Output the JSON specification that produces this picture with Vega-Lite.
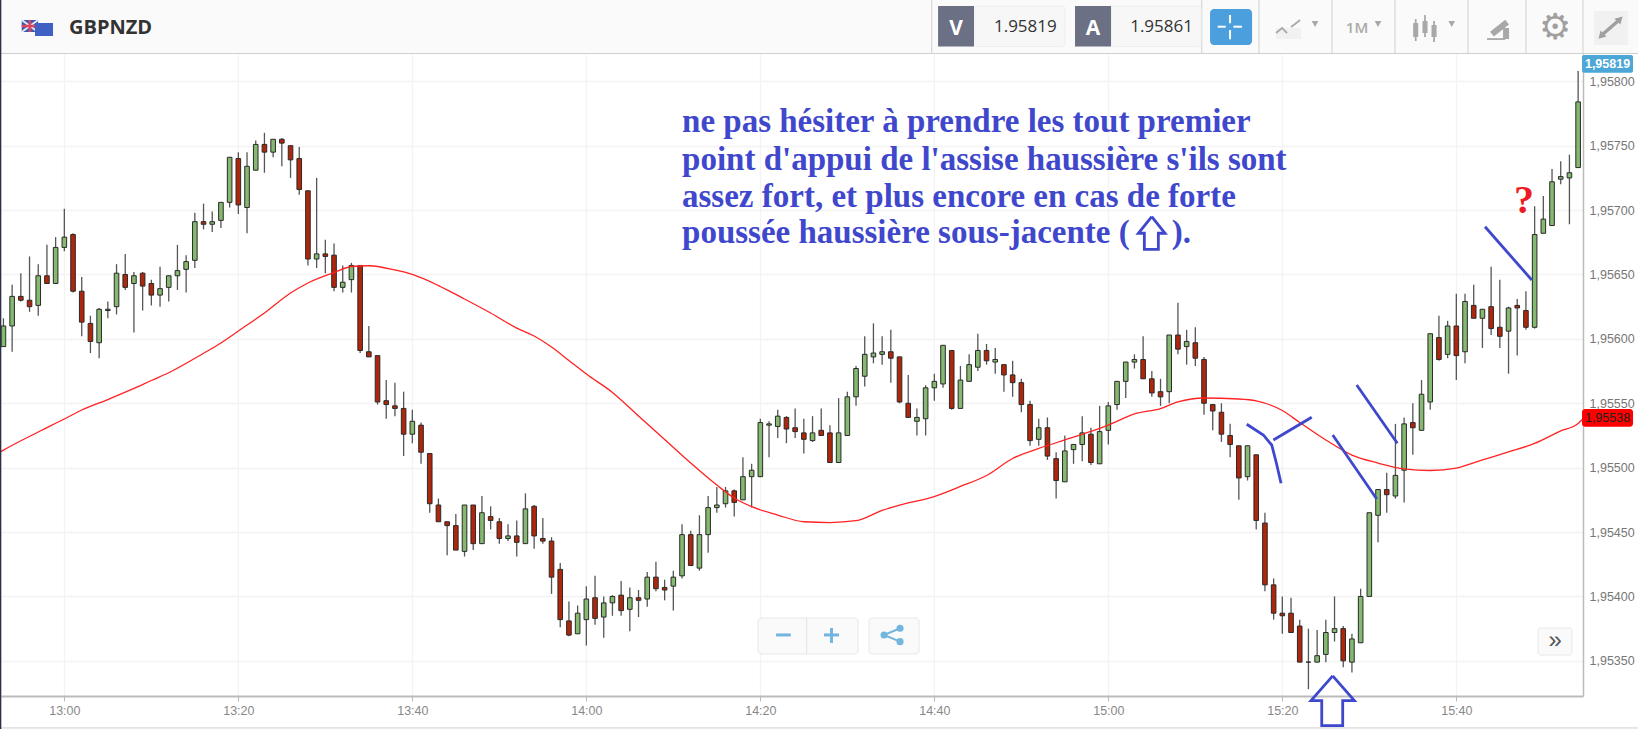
{"$schema":"https://vega.github.io/schema/vega-lite/v6.json","width":1582,"height":642,"autosize":{"type":"none"},"padding":{"left":1,"top":54,"right":55,"bottom":33},"background":"#ffffff","config":{"view":{"stroke":null}},
"datasets":{
"candles":[
{"minute":773,"open":1.95594,"high":1.95616,"low":1.95594,"close":1.95610},{"minute":774,"open":1.95610,"high":1.95642,"low":1.95590,"close":1.95633},{"minute":775,"open":1.95633,"high":1.95651,"low":1.95629,"close":1.95630},{"minute":776,"open":1.95630,"high":1.95664,"low":1.95621,"close":1.95625},{"minute":777,"open":1.95626,"high":1.95658,"low":1.95618,"close":1.95649},{"minute":778,"open":1.95649,"high":1.95673,"low":1.95643,"close":1.95643},{"minute":779,"open":1.95643,"high":1.95679,"low":1.95643,"close":1.95671},
{"minute":780,"open":1.95671,"high":1.95701,"low":1.95668,"close":1.95679},{"minute":781,"open":1.95681,"high":1.95682,"low":1.95636,"close":1.95637},{"minute":782,"open":1.95637,"high":1.95648,"low":1.95602,"close":1.95613},{"minute":783,"open":1.95612,"high":1.95618,"low":1.95589,"close":1.95598},{"minute":784,"open":1.95597,"high":1.95624,"low":1.95585,"close":1.95623},{"minute":785,"open":1.95622,"high":1.95629,"low":1.95616,"close":1.95623},{"minute":786,"open":1.95625,"high":1.95658,"low":1.95619,"close":1.95651},{"minute":787,"open":1.95650,"high":1.95666,"low":1.95638,"close":1.95640},{"minute":788,"open":1.95643,"high":1.95652,"low":1.95605,"close":1.95649},{"minute":789,"open":1.95651,"high":1.95652,"low":1.95622,"close":1.95641},
{"minute":790,"open":1.95643,"high":1.95646,"low":1.95626,"close":1.95634},{"minute":791,"open":1.95634,"high":1.95656,"low":1.95625,"close":1.95639},{"minute":792,"open":1.95640,"high":1.95649,"low":1.95629,"close":1.95649},{"minute":793,"open":1.95649,"high":1.95673,"low":1.95638,"close":1.95653},{"minute":794,"open":1.95654,"high":1.95665,"low":1.95636,"close":1.95660},{"minute":795,"open":1.95661,"high":1.95698,"low":1.95655,"close":1.95691},{"minute":796,"open":1.95691,"high":1.95705,"low":1.95685,"close":1.95689},{"minute":797,"open":1.95689,"high":1.95699,"low":1.95683,"close":1.95691},{"minute":798,"open":1.95692,"high":1.95706,"low":1.95686,"close":1.95706},{"minute":799,"open":1.95706,"high":1.95741,"low":1.95702,"close":1.95741},
{"minute":800,"open":1.95740,"high":1.95745,"low":1.95697,"close":1.95704},{"minute":801,"open":1.95702,"high":1.95745,"low":1.95682,"close":1.95734},{"minute":802,"open":1.95731,"high":1.95754,"low":1.95731,"close":1.95751},{"minute":803,"open":1.95751,"high":1.95760,"low":1.95729,"close":1.95745},{"minute":804,"open":1.95745,"high":1.95755,"low":1.95741,"close":1.95755},{"minute":805,"open":1.95755,"high":1.95756,"low":1.95734,"close":1.95752},{"minute":806,"open":1.95750,"high":1.95750,"low":1.95725,"close":1.95739},{"minute":807,"open":1.95740,"high":1.95749,"low":1.95712,"close":1.95716},{"minute":808,"open":1.95715,"high":1.95715,"low":1.95657,"close":1.95662},{"minute":809,"open":1.95662,"high":1.95725,"low":1.95655,"close":1.95666},
{"minute":810,"open":1.95666,"high":1.95677,"low":1.95651,"close":1.95664},{"minute":811,"open":1.95665,"high":1.95674,"low":1.95637,"close":1.95640},{"minute":812,"open":1.95640,"high":1.95657,"low":1.95636,"close":1.95644},{"minute":813,"open":1.95646,"high":1.95659,"low":1.95636,"close":1.95657},{"minute":814,"open":1.95657,"high":1.95657,"low":1.95589,"close":1.95591},{"minute":815,"open":1.95590,"high":1.95610,"low":1.95586,"close":1.95586},{"minute":816,"open":1.95587,"high":1.95587,"low":1.95549,"close":1.95551},{"minute":817,"open":1.95552,"high":1.95568,"low":1.95538,"close":1.95549},{"minute":818,"open":1.95548,"high":1.95566,"low":1.95540,"close":1.95546},{"minute":819,"open":1.95546,"high":1.95559,"low":1.95509,"close":1.95526},
{"minute":820,"open":1.95526,"high":1.95545,"low":1.95519,"close":1.95536},{"minute":821,"open":1.95533,"high":1.95535,"low":1.95503,"close":1.95512},{"minute":822,"open":1.95511,"high":1.95511,"low":1.95465,"close":1.95472},{"minute":823,"open":1.95471,"high":1.95476,"low":1.95458,"close":1.95458},{"minute":824,"open":1.95458,"high":1.95458,"low":1.95432,"close":1.95455},{"minute":825,"open":1.95455,"high":1.95464,"low":1.95436,"close":1.95436},{"minute":826,"open":1.95435,"high":1.95471,"low":1.95431,"close":1.95471},{"minute":827,"open":1.95471,"high":1.95471,"low":1.95436,"close":1.95441},{"minute":828,"open":1.95441,"high":1.95478,"low":1.95441,"close":1.95465},{"minute":829,"open":1.95462,"high":1.95470,"low":1.95452,"close":1.95459},
{"minute":830,"open":1.95458,"high":1.95461,"low":1.95441,"close":1.95445},{"minute":831,"open":1.95445,"high":1.95456,"low":1.95443,"close":1.95447},{"minute":832,"open":1.95447,"high":1.95459,"low":1.95431,"close":1.95442},{"minute":833,"open":1.95441,"high":1.95480,"low":1.95441,"close":1.95468},{"minute":834,"open":1.95470,"high":1.95471,"low":1.95437,"close":1.95447},{"minute":835,"open":1.95445,"high":1.95461,"low":1.95441,"close":1.95443},{"minute":836,"open":1.95443,"high":1.95446,"low":1.95402,"close":1.95415},{"minute":837,"open":1.95421,"high":1.95426,"low":1.95376,"close":1.95382},{"minute":838,"open":1.95381,"high":1.95396,"low":1.95369,"close":1.95370},{"minute":839,"open":1.95371,"high":1.95393,"low":1.95371,"close":1.95387},
{"minute":840,"open":1.95382,"high":1.95408,"low":1.95362,"close":1.95398},{"minute":841,"open":1.95399,"high":1.95416,"low":1.95378,"close":1.95383},{"minute":842,"open":1.95384,"high":1.95400,"low":1.95368,"close":1.95395},{"minute":843,"open":1.95395,"high":1.95401,"low":1.95385,"close":1.95400},{"minute":844,"open":1.95401,"high":1.95412,"low":1.95385,"close":1.95389},{"minute":845,"open":1.95390,"high":1.95407,"low":1.95373,"close":1.95399},{"minute":846,"open":1.95399,"high":1.95405,"low":1.95384,"close":1.95397},{"minute":847,"open":1.95398,"high":1.95419,"low":1.95392,"close":1.95415},{"minute":848,"open":1.95415,"high":1.95427,"low":1.95404,"close":1.95406},{"minute":849,"open":1.95407,"high":1.95413,"low":1.95397,"close":1.95405},
{"minute":850,"open":1.95408,"high":1.95420,"low":1.95389,"close":1.95415},{"minute":851,"open":1.95416,"high":1.95456,"low":1.95414,"close":1.95448},{"minute":852,"open":1.95448,"high":1.95451,"low":1.95424,"close":1.95424},{"minute":853,"open":1.95422,"high":1.95463,"low":1.95420,"close":1.95448},{"minute":854,"open":1.95448,"high":1.95478,"low":1.95434,"close":1.95469},{"minute":855,"open":1.95469,"high":1.95485,"low":1.95465,"close":1.95471},{"minute":856,"open":1.95472,"high":1.95485,"low":1.95469,"close":1.95482},{"minute":857,"open":1.95482,"high":1.95483,"low":1.95462,"close":1.95473},{"minute":858,"open":1.95475,"high":1.95508,"low":1.95475,"close":1.95493},{"minute":859,"open":1.95493,"high":1.95503,"low":1.95469,"close":1.95498},
{"minute":860,"open":1.95493,"high":1.95538,"low":1.95493,"close":1.95535},{"minute":861,"open":1.95533,"high":1.95536,"low":1.95508,"close":1.95534},{"minute":862,"open":1.95532,"high":1.95545,"low":1.95523,"close":1.95540},{"minute":863,"open":1.95539,"high":1.95540,"low":1.95519,"close":1.95530},{"minute":864,"open":1.95531,"high":1.95546,"low":1.95523,"close":1.95528},{"minute":865,"open":1.95527,"high":1.95538,"low":1.95511,"close":1.95522},{"minute":866,"open":1.95521,"high":1.95540,"low":1.95520,"close":1.95527},{"minute":867,"open":1.95529,"high":1.95546,"low":1.95525,"close":1.95525},{"minute":868,"open":1.95527,"high":1.95533,"low":1.95504,"close":1.95504},{"minute":869,"open":1.95504,"high":1.95554,"low":1.95504,"close":1.95527},
{"minute":870,"open":1.95525,"high":1.95559,"low":1.95525,"close":1.95555},{"minute":871,"open":1.95555,"high":1.95579,"low":1.95548,"close":1.95577},{"minute":872,"open":1.95571,"high":1.95602,"low":1.95563,"close":1.95588},{"minute":873,"open":1.95586,"high":1.95612,"low":1.95581,"close":1.95589},{"minute":874,"open":1.95588,"high":1.95602,"low":1.95580,"close":1.95590},{"minute":875,"open":1.95590,"high":1.95607,"low":1.95566,"close":1.95585},{"minute":876,"open":1.95586,"high":1.95586,"low":1.95550,"close":1.95551},{"minute":877,"open":1.95550,"high":1.95572,"low":1.95539,"close":1.95539},{"minute":878,"open":1.95536,"high":1.95546,"low":1.95525,"close":1.95539},{"minute":879,"open":1.95538,"high":1.95564,"low":1.95525,"close":1.95562},
{"minute":880,"open":1.95562,"high":1.95573,"low":1.95552,"close":1.95567},{"minute":881,"open":1.95565,"high":1.95595,"low":1.95562,"close":1.95595},{"minute":882,"open":1.95591,"high":1.95591,"low":1.95545,"close":1.95546},{"minute":883,"open":1.95546,"high":1.95579,"low":1.95546,"close":1.95568},{"minute":884,"open":1.95567,"high":1.95588,"low":1.95567,"close":1.95580},{"minute":885,"open":1.95578,"high":1.95604,"low":1.95575,"close":1.95591},{"minute":886,"open":1.95591,"high":1.95596,"low":1.95580,"close":1.95583},{"minute":887,"open":1.95582,"high":1.95593,"low":1.95573,"close":1.95584},{"minute":888,"open":1.95580,"high":1.95580,"low":1.95559,"close":1.95572},{"minute":889,"open":1.95572,"high":1.95583,"low":1.95555,"close":1.95566},
{"minute":890,"open":1.95566,"high":1.95569,"low":1.95543,"close":1.95549},{"minute":891,"open":1.95549,"high":1.95552,"low":1.95517,"close":1.95521},{"minute":892,"open":1.95522,"high":1.95538,"low":1.95517,"close":1.95531},{"minute":893,"open":1.95531,"high":1.95539,"low":1.95506,"close":1.95509},{"minute":894,"open":1.95507,"high":1.95512,"low":1.95476,"close":1.95490},{"minute":895,"open":1.95489,"high":1.95525,"low":1.95489,"close":1.95513},{"minute":896,"open":1.95514,"high":1.95518,"low":1.95503,"close":1.95518},{"minute":897,"open":1.95518,"high":1.95540,"low":1.95505,"close":1.95527},{"minute":898,"open":1.95526,"high":1.95531,"low":1.95502,"close":1.95504},{"minute":899,"open":1.95503,"high":1.95548,"low":1.95503,"close":1.95528},
{"minute":900,"open":1.95529,"high":1.95551,"low":1.95518,"close":1.95548},{"minute":901,"open":1.95549,"high":1.95567,"low":1.95545,"close":1.95567},{"minute":902,"open":1.95567,"high":1.95582,"low":1.95554,"close":1.95582},{"minute":903,"open":1.95582,"high":1.95588,"low":1.95577,"close":1.95584},{"minute":904,"open":1.95584,"high":1.95602,"low":1.95569,"close":1.95569},{"minute":905,"open":1.95569,"high":1.95575,"low":1.95555,"close":1.95558},{"minute":906,"open":1.95559,"high":1.95569,"low":1.95548,"close":1.95555},{"minute":907,"open":1.95559,"high":1.95603,"low":1.95550,"close":1.95603},{"minute":908,"open":1.95603,"high":1.95628,"low":1.95588,"close":1.95592},{"minute":909,"open":1.95594,"high":1.95607,"low":1.95580,"close":1.95598},
{"minute":910,"open":1.95597,"high":1.95609,"low":1.95579,"close":1.95585},{"minute":911,"open":1.95584,"high":1.95586,"low":1.95541,"close":1.95550},{"minute":912,"open":1.95549,"high":1.95549,"low":1.95529,"close":1.95544},{"minute":913,"open":1.95543,"high":1.95550,"low":1.95520,"close":1.95526},{"minute":914,"open":1.95525,"high":1.95534,"low":1.95508,"close":1.95518},{"minute":915,"open":1.95517,"high":1.95517,"low":1.95475,"close":1.95492},{"minute":916,"open":1.95493,"high":1.95517,"low":1.95490,"close":1.95517},{"minute":917,"open":1.95510,"high":1.95510,"low":1.95452,"close":1.95459},{"minute":918,"open":1.95457,"high":1.95465,"low":1.95404,"close":1.95409},{"minute":919,"open":1.95409,"high":1.95414,"low":1.95382,"close":1.95387},
{"minute":920,"open":1.95387,"high":1.95400,"low":1.95371,"close":1.95385},{"minute":921,"open":1.95387,"high":1.95399,"low":1.95372,"close":1.95372},{"minute":922,"open":1.95377,"high":1.95382,"low":1.95349,"close":1.95349},{"minute":923,"open":1.95349,"high":1.95375,"low":1.95328,"close":1.95349},{"minute":924,"open":1.95349,"high":1.95374,"low":1.95349,"close":1.95354},{"minute":925,"open":1.95355,"high":1.95382,"low":1.95349,"close":1.95372},{"minute":926,"open":1.95372,"high":1.95400,"low":1.95365,"close":1.95375},{"minute":927,"open":1.95375,"high":1.95377,"low":1.95345,"close":1.95350},{"minute":928,"open":1.95349,"high":1.95371,"low":1.95341,"close":1.95367},{"minute":929,"open":1.95364,"high":1.95406,"low":1.95364,"close":1.95400},
{"minute":930,"open":1.95400,"high":1.95465,"low":1.95400,"close":1.95465},{"minute":931,"open":1.95463,"high":1.95483,"low":1.95442,"close":1.95483},{"minute":932,"open":1.95483,"high":1.95496,"low":1.95465,"close":1.95479},{"minute":933,"open":1.95478,"high":1.95534,"low":1.95476,"close":1.95494},{"minute":934,"open":1.95498,"high":1.95539,"low":1.95473,"close":1.95534},{"minute":935,"open":1.95535,"high":1.95550,"low":1.95510,"close":1.95531},{"minute":936,"open":1.95529,"high":1.95568,"low":1.95529,"close":1.95557},{"minute":937,"open":1.95551,"high":1.95604,"low":1.95545,"close":1.95604},{"minute":938,"open":1.95601,"high":1.95618,"low":1.95583,"close":1.95584},{"minute":939,"open":1.95588,"high":1.95614,"low":1.95585,"close":1.95610},
{"minute":940,"open":1.95610,"high":1.95635,"low":1.95568,"close":1.95587},{"minute":941,"open":1.95590,"high":1.95635,"low":1.95581,"close":1.95629},{"minute":942,"open":1.95626,"high":1.95642,"low":1.95616,"close":1.95616},{"minute":943,"open":1.95616,"high":1.95623,"low":1.95593,"close":1.95623},{"minute":944,"open":1.95625,"high":1.95656,"low":1.95603,"close":1.95608},{"minute":945,"open":1.95609,"high":1.95646,"low":1.95593,"close":1.95602},{"minute":946,"open":1.95606,"high":1.95625,"low":1.95573,"close":1.95624},{"minute":947,"open":1.95626,"high":1.95631,"low":1.95587,"close":1.95624},{"minute":948,"open":1.95622,"high":1.95637,"low":1.95607,"close":1.95609},{"minute":949,"open":1.95609,"high":1.95703,"low":1.95608,"close":1.95681},
{"minute":950,"open":1.95682,"high":1.95711,"low":1.95682,"close":1.95693},{"minute":951,"open":1.95688,"high":1.95732,"low":1.95688,"close":1.95722},{"minute":952,"open":1.95724,"high":1.95738,"low":1.95720,"close":1.95726},{"minute":953,"open":1.95725,"high":1.95743,"low":1.95689,"close":1.95729},{"minute":954,"open":1.95733,"high":1.95808,"low":1.95733,"close":1.95784}
],
"ma":[{"minute":772.72,"price":1.955125},{"minute":773,"price":1.955136},{"minute":777,"price":1.955277},{"minute":780,"price":1.955378},{"minute":782,"price":1.955448},{"minute":785,"price":1.955529},{"minute":788,"price":1.955615},{"minute":790,"price":1.955677},{"minute":792,"price":1.955737},{"minute":796,"price":1.955888},{"minute":798,"price":1.955968},{"minute":800,"price":1.956061},{"minute":803,"price":1.956201},{"minute":806,"price":1.956356},{"minute":808,"price":1.956434},{"minute":811,"price":1.956515},{"minute":813,"price":1.956562},{"minute":815,"price":1.956568},{"minute":818,"price":1.956535},{"minute":820,"price":1.9565},{"minute":823,"price":1.956414},{"minute":826,"price":1.95631},{"minute":829,"price":1.956201},{"minute":832,"price":1.956084},{"minute":834,"price":1.956022},{"minute":836,"price":1.955937},{"minute":838,"price":1.955832},{"minute":840,"price":1.955727},{"minute":843,"price":1.955584},{"minute":846,"price":1.955401},{"minute":849,"price":1.955219},{"minute":852,"price":1.955036},{"minute":855,"price":1.954865},{"minute":857,"price":1.954764},{"minute":859,"price":1.954697},{"minute":862,"price":1.954632},{"minute":865,"price":1.95458},{"minute":868,"price":1.954574},{"minute":871,"price":1.954588},{"minute":874,"price":1.954668},{"minute":876,"price":1.95471},{"minute":880,"price":1.954776},{"minute":883,"price":1.954854},{"minute":886,"price":1.954939},{"minute":889,"price":1.955071},{"minute":892,"price":1.955149},{"minute":895,"price":1.955215},{"minute":898,"price":1.955281},{"minute":900,"price":1.955331},{"minute":903,"price":1.955417},{"minute":906,"price":1.955459},{"minute":908,"price":1.95551},{"minute":911,"price":1.955541},{"minute":915,"price":1.955533},{"minute":917,"price":1.955518},{"minute":920,"price":1.955444},{"minute":922,"price":1.955351},{"minute":925,"price":1.955215},{"minute":928,"price":1.955098},{"minute":931,"price":1.955036},{"minute":934,"price":1.95499},{"minute":937,"price":1.954978},{"minute":940,"price":1.954997},{"minute":943,"price":1.95506},{"minute":946,"price":1.955122},{"minute":949,"price":1.955188},{"minute":952,"price":1.955285},{"minute":954,"price":1.955343},{"minute":954.56,"price":1.95538}],
"strokes":[
{"id":"a","i":1,"minute":915.91,"price":1.955337},{"id":"a","i":2,"minute":917.82,"price":1.955254},{"id":"a","i":3,"minute":918.78,"price":1.955176},{"id":"a","i":4,"minute":919.28,"price":1.955046},{"id":"a","i":5,"minute":919.85,"price":1.954879},
{"id":"b","i":1,"minute":918.97,"price":1.955215},{"id":"b","i":2,"minute":923.38,"price":1.955391},
{"id":"c","i":1,"minute":925.79,"price":1.955254},{"id":"c","i":2,"minute":930.85,"price":1.954757},
{"id":"d","i":1,"minute":928.55,"price":1.955642},{"id":"d","i":2,"minute":933.22,"price":1.955189},
{"id":"e","i":1,"minute":943.30,"price":1.956871},{"id":"e","i":2,"minute":948.67,"price":1.956457},
{"id":"big","i":1,"minute":925.79,"price":1.953383},{"id":"big","i":2,"minute":928.28,"price":1.953191},{"id":"big","i":3,"minute":926.94,"price":1.953191},{"id":"big","i":4,"minute":926.94,"price":1.952997},{"id":"big","i":5,"minute":924.53,"price":1.952997},{"id":"big","i":6,"minute":924.53,"price":1.953191},{"id":"big","i":7,"minute":923.30,"price":1.953191},{"id":"big","i":8,"minute":925.79,"price":1.953383},
{"id":"small","i":1,"minute":904.99,"price":1.956949},{"id":"small","i":2,"minute":906.52,"price":1.95682},{"id":"small","i":3,"minute":905.75,"price":1.95682},{"id":"small","i":4,"minute":905.75,"price":1.956695},{"id":"small","i":5,"minute":904.14,"price":1.956695},{"id":"small","i":6,"minute":904.14,"price":1.95682},{"id":"small","i":7,"minute":903.45,"price":1.95682},{"id":"small","i":8,"minute":904.99,"price":1.956949}
]},
"data":{"name":"candles"},
"layer":[
{"mark":{"type":"rule","color":"#555555","strokeWidth":1.3},"encoding":{
"x":{"field":"minute","type":"quantitative","title":null,"scale":{"domain":[772.72,954.56],"nice":false,"zero":false,"padding":0},"axis":{"orient":"bottom","title":null,"values":[780,800,820,840,860,880,900,920,940],"labelExpr":"format(floor(datum.value/60),'02d')+':'+format(datum.value%60,'02d')","labelFont":"Liberation Sans","labelFontSize":12.5,"labelColor":"#888888","labelPadding":3,"tickSize":5,"tickColor":"#bbbbbb","domainColor":"#bbbbbb","domainWidth":2,"gridColor":"#f3f3f3","gridWidth":1.3,"grid":true,"labelFlush":false,"labelOverlap":false}},
"y":{"field":"high","type":"quantitative","title":null,"scale":{"domain":[1.953227,1.958212],"nice":false,"zero":false},"axis":{"orient":"right","title":null,"values":[1.9535,1.954,1.9545,1.955,1.9555,1.956,1.9565,1.957,1.9575,1.958],"labelExpr":"replace(format(datum.value,'.5f'),'.',',')","labelFont":"Liberation Sans","labelFontSize":12.5,"labelColor":"#777777","labelPadding":6,"tickSize":0,"domainColor":"#bbbbbb","domainWidth":1.5,"gridColor":"#f3f3f3","gridWidth":1.3,"grid":true,"labelOverlap":false}},
"y2":{"field":"low"}}},
{"mark":{"type":"bar","orient":"vertical","size":4.6,"stroke":"#2a2a2a","strokeWidth":1},"encoding":{"x":{"field":"minute","type":"quantitative","scale":{"domain":[772.72,954.56],"padding":0}},"y":{"field":"open","type":"quantitative","scale":{"domain":[1.953227,1.958212]}},"y2":{"field":"close"},"fill":{"condition":{"test":"datum.close>=datum.open","value":"#84b96f"},"value":"#b0260a"}}},
{"data":{"name":"ma"},"mark":{"type":"line","color":"#ff2222","strokeWidth":1.3,"interpolate":"monotone"},"encoding":{"x":{"field":"minute","type":"quantitative","scale":{"domain":[772.72,954.56]}},"y":{"field":"price","type":"quantitative","scale":{"domain":[1.953227,1.958212]}}}},
{"data":{"name":"strokes"},"mark":{"type":"line","color":"#3f48cc","strokeWidth":2.8},"encoding":{"x":{"field":"minute","type":"quantitative","scale":{"domain":[772.72,954.56]}},"y":{"field":"price","type":"quantitative","scale":{"domain":[1.953227,1.958212]}},"detail":{"field":"id"},"order":{"field":"i"}}},
{"data":{"values":[{"line":"ne pas hésiter à prendre les tout premier","minute":851.0,"price":1.957606},{"line":"point d'appui de l'assise haussière s'ils sont","minute":851.0,"price":1.957311},{"line":"assez fort, et plus encore en cas de forte","minute":851.0,"price":1.957024},{"line":"poussée haussière sous-jacente (","minute":851.0,"price":1.956744},{"line":").","minute":907.29,"price":1.956744}]},"mark":{"type":"text","font":"Liberation Serif","fontWeight":"bold","fontSize":33,"color":"#3f48cc","align":"left","baseline":"alphabetic"},"encoding":{"x":{"field":"minute","type":"quantitative","scale":{"domain":[772.72,954.56]}},"y":{"field":"price","type":"quantitative","scale":{"domain":[1.953227,1.958212]}},"text":{"field":"line"}}},
{"data":{"values":[{"note":"?","minute":947.78,"price":1.956977}]},"mark":{"type":"text","font":"Liberation Serif","fontWeight":"bold","fontSize":40,"color":"#ed1c24","align":"center","baseline":"alphabetic"},"encoding":{"x":{"field":"minute","type":"quantitative","scale":{"domain":[772.72,954.56]}},"y":{"field":"price","type":"quantitative","scale":{"domain":[1.953227,1.958212]}},"text":{"field":"note"}}},
{"data":{"values":[{"x1":772.61,"x2":960.87,"y1":1.95822,"y2":1.958631}]},"mark":{"type":"rect","fill":"#fafafa"},"encoding":{"x":{"field":"x1","type":"quantitative","scale":{"domain":[772.72,954.56]}},"x2":{"field":"x2"},"y":{"field":"y1","type":"quantitative","scale":{"domain":[1.953227,1.958212]}},"y2":{"field":"y2"}}},
{"data":{"values":[{"id":"top","x":772.61,"y":1.958216},{"id":"top","x":960.87,"y":1.958216},{"id":"bottom","x":772.61,"y":1.952979},{"id":"bottom","x":960.87,"y":1.952979},{"id":"s1","x":879.7,"y":1.958631},{"id":"s1","x":879.7,"y":1.95822},{"id":"s2","x":910.74,"y":1.958631},{"id":"s2","x":910.74,"y":1.95822},{"id":"s3","x":917.32,"y":1.958631},{"id":"s3","x":917.32,"y":1.95822},{"id":"s4","x":925.71,"y":1.958631},{"id":"s4","x":925.71,"y":1.95822},{"id":"s5","x":932.95,"y":1.958631},{"id":"s5","x":932.95,"y":1.95822},{"id":"s6","x":941.34,"y":1.958631},{"id":"s6","x":941.34,"y":1.95822},{"id":"s7","x":948.01,"y":1.958631},{"id":"s7","x":948.01,"y":1.95822},{"id":"s8","x":954.56,"y":1.958631},{"id":"s8","x":954.56,"y":1.95822}]},"mark":{"type":"line","color":"#cfcfcf","strokeWidth":1},"encoding":{"x":{"field":"x","type":"quantitative","scale":{"domain":[772.72,954.56]}},"y":{"field":"y","type":"quantitative","scale":{"domain":[1.953227,1.958212]}},"detail":{"field":"id"}}},
{"data":{"values":[{"id":"left","x":772.67,"y":1.958631},{"id":"left","x":772.67,"y":1.95297}]},"mark":{"type":"line","color":"#2a3045","strokeWidth":1.5},"encoding":{"x":{"field":"x","type":"quantitative","scale":{"domain":[772.72,954.56]}},"y":{"field":"y","type":"quantitative","scale":{"domain":[1.953227,1.958212]}},"detail":{"field":"id"}}},
{"data":{"values":[{"x1":884.56,"x2":895.02,"y1":1.958584,"y2":1.95827},{"x1":900.31,"x2":910.66,"y1":1.958584,"y2":1.95827}]},"mark":{"type":"rect","fill":"#f7f7f7","stroke":"#eeeeee","cornerRadius":3},"encoding":{"x":{"field":"x1","type":"quantitative","scale":{"domain":[772.72,954.56]}},"x2":{"field":"x2"},"y":{"field":"y1","type":"quantitative","scale":{"domain":[1.953227,1.958212]}},"y2":{"field":"y2"}}},
{"data":{"values":[{"x1":880.43,"x2":884.56,"y1":1.958584,"y2":1.95827},{"x1":896.17,"x2":900.31,"y1":1.958584,"y2":1.95827}]},"mark":{"type":"rect","fill":"#6b7084"},"encoding":{"x":{"field":"x1","type":"quantitative","scale":{"domain":[772.72,954.56]}},"x2":{"field":"x2"},"y":{"field":"y1","type":"quantitative","scale":{"domain":[1.953227,1.958212]}},"y2":{"field":"y2"}}},
{"data":{"values":[{"x1":911.69,"x2":916.52,"y1":1.958561,"y2":1.958282}]},"mark":{"type":"rect","fill":"#4a9fdc","cornerRadius":4},"encoding":{"x":{"field":"x1","type":"quantitative","scale":{"domain":[772.72,954.56]}},"x2":{"field":"x2"},"y":{"field":"y1","type":"quantitative","scale":{"domain":[1.953227,1.958212]}},"y2":{"field":"y2"}}},
{"data":{"values":[{"id":"l","x":912.57,"y":1.958424},{"id":"l","x":913.49,"y":1.958424},{"id":"r","x":914.37,"y":1.958424},{"id":"r","x":915.37,"y":1.958424},{"id":"u","x":913.99,"y":1.958515},{"id":"u","x":913.99,"y":1.958451},{"id":"d","x":913.99,"y":1.958398},{"id":"d","x":913.99,"y":1.958326}]},"mark":{"type":"line","color":"#ffffff","strokeWidth":2},"encoding":{"x":{"field":"x","type":"quantitative","scale":{"domain":[772.72,954.56]}},"y":{"field":"y","type":"quantitative","scale":{"domain":[1.953227,1.958212]}},"detail":{"field":"id"}}},
{"data":{"values":[{"label":"V","x":882.49,"y":1.958362},{"label":"A","x":898.24,"y":1.958362}]},"mark":{"type":"text","font":"Open Sans","fontWeight":"bold","fontSize":21,"color":"#ffffff","align":"center","baseline":"alphabetic"},"encoding":{"x":{"field":"x","type":"quantitative","scale":{"domain":[772.72,954.56]}},"y":{"field":"y","type":"quantitative","scale":{"domain":[1.953227,1.958212]}},"text":{"field":"label"}}},
{"data":{"values":[{"label":"1.95819","x":894.07,"y":1.958379},{"label":"1.95861","x":909.73,"y":1.958379}]},"mark":{"type":"text","font":"Open Sans","fontSize":17,"color":"#333333","align":"right","baseline":"alphabetic"},"encoding":{"x":{"field":"x","type":"quantitative","scale":{"domain":[772.72,954.56]}},"y":{"field":"y","type":"quantitative","scale":{"domain":[1.953227,1.958212]}},"text":{"field":"label"}}},
{"data":{"values":[{"label":"GBPNZD","x":780.54,"y":1.958367}]},"mark":{"type":"text","font":"Open Sans","fontWeight":"bold","fontSize":20,"color":"#333333","align":"left","baseline":"alphabetic"},"encoding":{"x":{"field":"x","type":"quantitative","scale":{"domain":[772.72,954.56]}},"y":{"field":"y","type":"quantitative","scale":{"domain":[1.953227,1.958212]}},"text":{"field":"label"}}},
{"data":{"values":[{"x1":775.1,"x2":776.98,"y1":1.958476,"y2":1.958383}]},"mark":{"type":"rect","fill":"#3b5bb5"},"encoding":{"x":{"field":"x1","type":"quantitative","scale":{"domain":[772.72,954.56]}},"x2":{"field":"x2"},"y":{"field":"y1","type":"quantitative","scale":{"domain":[1.953227,1.958212]}},"y2":{"field":"y2"}}},
{"data":{"values":[{"id":"d1","x":775.1,"y":1.958476},{"id":"d1","x":776.98,"y":1.958383},{"id":"d2","x":775.1,"y":1.958383},{"id":"d2","x":776.98,"y":1.958476}]},"mark":{"type":"line","color":"#e8e8f4","strokeWidth":2},"encoding":{"x":{"field":"x","type":"quantitative","scale":{"domain":[772.72,954.56]}},"y":{"field":"y","type":"quantitative","scale":{"domain":[1.953227,1.958212]}},"detail":{"field":"id"}}},
{"data":{"values":[{"id":"h","x":775.1,"y":1.958429},{"id":"h","x":776.98,"y":1.958429},{"id":"v","x":776.04,"y":1.958476},{"id":"v","x":776.04,"y":1.958383}]},"mark":{"type":"line","color":"#e0455a","strokeWidth":2.5},"encoding":{"x":{"field":"x","type":"quantitative","scale":{"domain":[772.72,954.56]}},"y":{"field":"y","type":"quantitative","scale":{"domain":[1.953227,1.958212]}},"detail":{"field":"id"}}},
{"data":{"values":[{"x1":776.63,"x2":778.7,"y1":1.958452,"y2":1.958351}]},"mark":{"type":"rect","fill":"#4060c4"},"encoding":{"x":{"field":"x1","type":"quantitative","scale":{"domain":[772.72,954.56]}},"x2":{"field":"x2"},"y":{"field":"y1","type":"quantitative","scale":{"domain":[1.953227,1.958212]}},"y2":{"field":"y2"}}},
{"data":{"values":[{"x1":919.28,"x2":922.15,"y1":1.958414,"y2":1.958328},{"x1":955.83,"x2":959.74,"y1":1.958546,"y2":1.958282}]},"mark":{"type":"rect","fill":"#ececec","opacity":0.7},"encoding":{"x":{"field":"x1","type":"quantitative","scale":{"domain":[772.72,954.56]}},"x2":{"field":"x2"},"y":{"field":"y1","type":"quantitative","scale":{"domain":[1.953227,1.958212]}},"y2":{"field":"y2"}}},
{"data":{"values":[{"id":"p1","i":1,"x":919.28,"y":1.958375},{"id":"p1","i":2,"x":919.97,"y":1.958414},{"id":"p1","i":3,"x":920.54,"y":1.958375},{"id":"p2","i":1,"x":921.0,"y":1.958421},{"id":"p2","i":2,"x":921.46,"y":1.958445},{"id":"p2","i":3,"x":922.04,"y":1.958476},{"id":"w1","i":1,"x":935.33,"y":1.958483},{"id":"w1","i":2,"x":935.33,"y":1.958313},{"id":"w2","i":1,"x":936.4,"y":1.958515},{"id":"w2","i":2,"x":936.4,"y":1.958344},{"id":"w3","i":1,"x":937.44,"y":1.958468},{"id":"w3","i":2,"x":937.44,"y":1.958305},{"id":"r","i":1,"x":943.53,"y":1.958328},{"id":"r","i":2,"x":945.6,"y":1.958328}]},"mark":{"type":"line","color":"#a8a8a8","strokeWidth":1.8},"encoding":{"x":{"field":"x","type":"quantitative","scale":{"domain":[772.72,954.56]}},"y":{"field":"y","type":"quantitative","scale":{"domain":[1.953227,1.958212]}},"detail":{"field":"id"},"order":{"field":"i"}}},
{"data":{"values":[{"x1":935.04,"x2":935.62,"y1":1.958452,"y2":1.958344},{"x1":936.11,"x2":936.69,"y1":1.958468,"y2":1.958375},{"x1":937.15,"x2":937.73,"y1":1.958437,"y2":1.958344},{"x1":945.37,"x2":946.06,"y1":1.958414,"y2":1.958328}]},"mark":{"type":"rect","fill":"#a8a8a8"},"encoding":{"x":{"field":"x1","type":"quantitative","scale":{"domain":[772.72,954.56]}},"x2":{"field":"x2"},"y":{"field":"y1","type":"quantitative","scale":{"domain":[1.953227,1.958212]}},"y2":{"field":"y2"}}},
{"data":{"values":[{"i":1,"x":944.1,"y":1.958367},{"i":2,"x":945.83,"y":1.95846}]},"mark":{"type":"line","color":"#a8a8a8","strokeWidth":6},"encoding":{"x":{"field":"x","type":"quantitative","scale":{"domain":[772.72,954.56]}},"y":{"field":"y","type":"quantitative","scale":{"domain":[1.953227,1.958212]}},"order":{"field":"i"}}},
{"data":{"values":[{"x":923.76,"y":1.958445},{"x":931.0,"y":1.958445},{"x":939.47,"y":1.958445}]},"mark":{"type":"point","shape":"triangle-down","filled":true,"size":45,"color":"#a8a8a8","opacity":1},"encoding":{"x":{"field":"x","type":"quantitative","scale":{"domain":[772.72,954.56]}},"y":{"field":"y","type":"quantitative","scale":{"domain":[1.953227,1.958212]}}}},
{"data":{"values":[{"label":"1M","x":928.59,"y":1.958375}]},"mark":{"type":"text","font":"Open Sans","fontWeight":600,"fontSize":15,"color":"#aaaaaa","align":"center","baseline":"alphabetic"},"encoding":{"x":{"field":"x","type":"quantitative","scale":{"domain":[772.72,954.56]}},"y":{"field":"y","type":"quantitative","scale":{"domain":[1.953227,1.958212]}},"text":{"field":"label"}}},
{"data":{"values":[{"icon":"⚙","x":951.35,"y":1.958414}]},"mark":{"type":"text","font":"DejaVu Sans","fontSize":36,"color":"#a0a0a0","align":"center","baseline":"middle"},"encoding":{"x":{"field":"x","type":"quantitative","scale":{"domain":[772.72,954.56]}},"y":{"field":"y","type":"quantitative","scale":{"domain":[1.953227,1.958212]}},"text":{"field":"icon"}}},
{"data":{"values":[{"i":1,"x":956.86,"y":1.958367},{"i":2,"x":958.59,"y":1.958468}]},"mark":{"type":"line","color":"#a0a0a0","strokeWidth":3.5},"encoding":{"x":{"field":"x","type":"quantitative","scale":{"domain":[772.72,954.56]}},"y":{"field":"y","type":"quantitative","scale":{"domain":[1.953227,1.958212]}},"order":{"field":"i"}}},
{"data":{"values":[{"x":958.81,"y":1.958483}]},"mark":{"type":"point","shape":"triangle-up","angle":45,"filled":true,"size":70,"color":"#a0a0a0","opacity":1},"encoding":{"x":{"field":"x","type":"quantitative","scale":{"domain":[772.72,954.56]}},"y":{"field":"y","type":"quantitative","scale":{"domain":[1.953227,1.958212]}}}},
{"data":{"values":[{"x":956.63,"y":1.958351}]},"mark":{"type":"point","shape":"triangle-up","angle":225,"filled":true,"size":70,"color":"#a0a0a0","opacity":1},"encoding":{"x":{"field":"x","type":"quantitative","scale":{"domain":[772.72,954.56]}},"y":{"field":"y","type":"quantitative","scale":{"domain":[1.953227,1.958212]}}}},
{"data":{"values":[{"x1":954.45,"x2":960.31,"y1":1.958204,"y2":1.958067}]},"mark":{"type":"rect","fill":"#4da6d8","cornerRadius":2},"encoding":{"x":{"field":"x1","type":"quantitative","scale":{"domain":[772.72,954.56]}},"x2":{"field":"x2"},"y":{"field":"y1","type":"quantitative","scale":{"domain":[1.953227,1.958212]}},"y2":{"field":"y2"}}},
{"data":{"values":[{"x1":954.45,"x2":960.31,"y1":1.955456,"y2":1.955318}]},"mark":{"type":"rect","fill":"#ff0000","cornerRadius":3},"encoding":{"x":{"field":"x1","type":"quantitative","scale":{"domain":[772.72,954.56]}},"x2":{"field":"x2"},"y":{"field":"y1","type":"quantitative","scale":{"domain":[1.953227,1.958212]}},"y2":{"field":"y2"}}},
{"data":{"values":[{"label":"1,95819","x":957.38,"y":1.958134}]},"mark":{"type":"text","font":"Liberation Sans","fontWeight":"bold","fontSize":12.5,"color":"#ffffff","align":"center","baseline":"middle"},"encoding":{"x":{"field":"x","type":"quantitative","scale":{"domain":[772.72,954.56]}},"y":{"field":"y","type":"quantitative","scale":{"domain":[1.953227,1.958212]}},"text":{"field":"label"}}},
{"data":{"values":[{"label":"1,95538","x":957.38,"y":1.955386}]},"mark":{"type":"text","font":"Liberation Sans","fontSize":12.5,"color":"#222222","align":"center","baseline":"middle"},"encoding":{"x":{"field":"x","type":"quantitative","scale":{"domain":[772.72,954.56]}},"y":{"field":"y","type":"quantitative","scale":{"domain":[1.953227,1.958212]}},"text":{"field":"label"}}},
{"data":{"values":[{"x1":859.74,"x2":871.23,"y1":1.953833,"y2":1.953553},{"x1":872.5,"x2":878.24,"y1":1.953833,"y2":1.953553},{"x1":949.39,"x2":953.3,"y1":1.953755,"y2":1.953545}]},"mark":{"type":"rect","fill":"#fafafa","stroke":"#e8e8e8","cornerRadius":3},"encoding":{"x":{"field":"x1","type":"quantitative","scale":{"domain":[772.72,954.56]}},"x2":{"field":"x2"},"y":{"field":"y1","type":"quantitative","scale":{"domain":[1.953227,1.958212]}},"y2":{"field":"y2"}}},
{"data":{"values":[{"id":"div","x":865.33,"y":1.953833},{"id":"div","x":865.33,"y":1.953553}]},"mark":{"type":"line","color":"#e2e2e2","strokeWidth":1},"encoding":{"x":{"field":"x","type":"quantitative","scale":{"domain":[772.72,954.56]}},"y":{"field":"y","type":"quantitative","scale":{"domain":[1.953227,1.958212]}},"detail":{"field":"id"}}},
{"data":{"values":[{"id":"minus","i":1,"x":861.81,"y":1.953701},{"id":"minus","i":2,"x":863.5,"y":1.953701},{"id":"plusH","i":1,"x":867.32,"y":1.953701},{"id":"plusH","i":2,"x":869.05,"y":1.953701},{"id":"plusV","i":1,"x":868.18,"y":1.953755},{"id":"plusV","i":2,"x":868.18,"y":1.953639}]},"mark":{"type":"line","color":"#72b5de","strokeWidth":3},"encoding":{"x":{"field":"x","type":"quantitative","scale":{"domain":[772.72,954.56]}},"y":{"field":"y","type":"quantitative","scale":{"domain":[1.953227,1.958212]}},"detail":{"field":"id"},"order":{"field":"i"}}},
{"data":{"values":[{"i":1,"x":876.06,"y":1.953753},{"i":2,"x":874.22,"y":1.953701},{"i":3,"x":876.06,"y":1.953649}]},"mark":{"type":"line","color":"#72b5de","strokeWidth":2},"encoding":{"x":{"field":"x","type":"quantitative","scale":{"domain":[772.72,954.56]}},"y":{"field":"y","type":"quantitative","scale":{"domain":[1.953227,1.958212]}},"order":{"field":"i"}}},
{"data":{"values":[{"x":876.06,"y":1.953753},{"x":874.22,"y":1.953701},{"x":876.06,"y":1.953649}]},"mark":{"type":"point","shape":"circle","filled":true,"size":50,"color":"#72b5de","opacity":1},"encoding":{"x":{"field":"x","type":"quantitative","scale":{"domain":[772.72,954.56]}},"y":{"field":"y","type":"quantitative","scale":{"domain":[1.953227,1.958212]}}}},
{"data":{"values":[{"label":"»","x":951.35,"y":1.953654}]},"mark":{"type":"text","font":"Liberation Sans","fontSize":24,"color":"#555555","align":"center","baseline":"middle"},"encoding":{"x":{"field":"x","type":"quantitative","scale":{"domain":[772.72,954.56]}},"y":{"field":"y","type":"quantitative","scale":{"domain":[1.953227,1.958212]}},"text":{"field":"label"}}}
]}
